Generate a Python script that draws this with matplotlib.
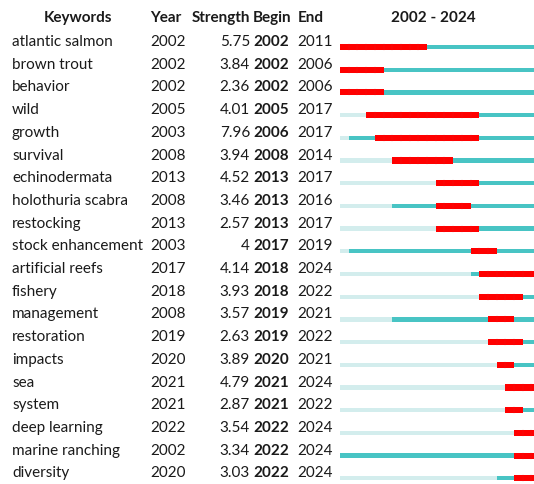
import matplotlib
matplotlib.use("Agg")
import matplotlib.pyplot as plt

plt.rcParams['font.family'] = ['Lato', 'DejaVu Sans']

keywords = ["atlantic salmon", "brown trout", "behavior", "wild", "growth", "survival",
            "echinodermata", "holothuria scabra", "restocking", "stock enhancement",
            "artificial reefs", "fishery", "management", "restoration", "impacts", "sea",
            "system", "deep learning", "marine ranching", "diversity"]
first_year = [2002, 2002, 2002, 2005, 2003, 2008, 2013, 2008, 2013, 2003,
              2017, 2018, 2008, 2019, 2020, 2021, 2021, 2022, 2002, 2020]
strength = ["5.75", "3.84", "2.36", "4.01", "7.96", "3.94", "4.52", "3.46", "2.57", "4",
            "4.14", "3.93", "3.57", "2.63", "3.89", "4.79", "2.87", "3.54", "3.34", "3.03"]
begin = [2002, 2002, 2002, 2005, 2006, 2008, 2013, 2013, 2013, 2017,
         2018, 2018, 2019, 2019, 2020, 2021, 2021, 2022, 2022, 2022]
end = [2011, 2006, 2006, 2017, 2017, 2014, 2017, 2016, 2017, 2019,
       2024, 2022, 2021, 2022, 2021, 2024, 2022, 2024, 2024, 2024]
start_year, end_year = 2002, 2024

RED = "#ff0000"
CYAN = "#48c4c4"
LIGHT = "#d3eded"
TXT = "#1a1a1a"
FS = 11

W, H = 534, 484
fig = plt.figure(figsize=(W / 100, H / 100), dpi=100)

# row i bar is centred at pixel 47 + 22.7*i from top
row0, step = 47.0, 22.7
ylim = ((H - row0) / step, -row0 / step)

# text layer in pixel x, row y
tax = fig.add_axes([0, 0, 1, 1])
tax.set_xlim(0, W)
tax.set_ylim(*ylim)
tax.axis("off")

hy = (18 - row0) / step
hdr = dict(va="center", fontsize=FS, fontweight="bold", color=TXT)
tax.text(78, hy, "Keywords", ha="center", **hdr)
tax.text(150, hy, "Year", ha="left", **hdr)
tax.text(250, hy, "Strength", ha="right", **hdr)
tax.text(253, hy, "Begin", ha="left", **hdr)
tax.text(298, hy, "End", ha="left", **hdr)
tax.text(433, hy, f"{start_year} - {end_year}", ha="center", **hdr)

for i, kw in enumerate(keywords):
    y = i - 0.22
    tax.text(12, y, kw, ha="left", va="center", fontsize=FS, color=TXT)
    tax.text(150, y, str(first_year[i]), ha="left", va="center", fontsize=FS, color=TXT)
    tax.text(250, y, strength[i], ha="right", va="center", fontsize=FS, color=TXT)
    tax.text(253, y, str(begin[i]), ha="left", va="center", fontsize=FS, fontweight="bold", color=TXT)
    tax.text(297, y, str(end[i]), ha="left", va="center", fontsize=FS, color=TXT)

# bar layer
bx0 = 340
yw = 8.7
ax = fig.add_axes([bx0 / W, 0, (W - bx0) / W, 1])
ax.set_xlim(start_year, start_year + (W - bx0) / yw)
ax.set_ylim(*ylim)
ax.axis("off")

last = end_year + 1
for i in range(len(keywords)):
    b, e = begin[i], end[i] + 1
    ax.barh(i, first_year[i] - start_year, left=start_year, height=0.19, color=LIGHT, lw=0)
    ax.barh(i, b - first_year[i], left=first_year[i], height=0.19, color=CYAN, lw=0)
    ax.barh(i, last - e, left=e, height=0.19, color=CYAN, lw=0)
    ax.barh(i, e - b, left=b, height=0.27, color=RED, lw=0)
    # faint year dividers on the burst
    for yr in range(b + 1, e):
        ax.plot([yr, yr], [i - 0.135, i + 0.135], color="#ea1a1a", lw=0.3)

fig.savefig("out.png", dpi=100)
